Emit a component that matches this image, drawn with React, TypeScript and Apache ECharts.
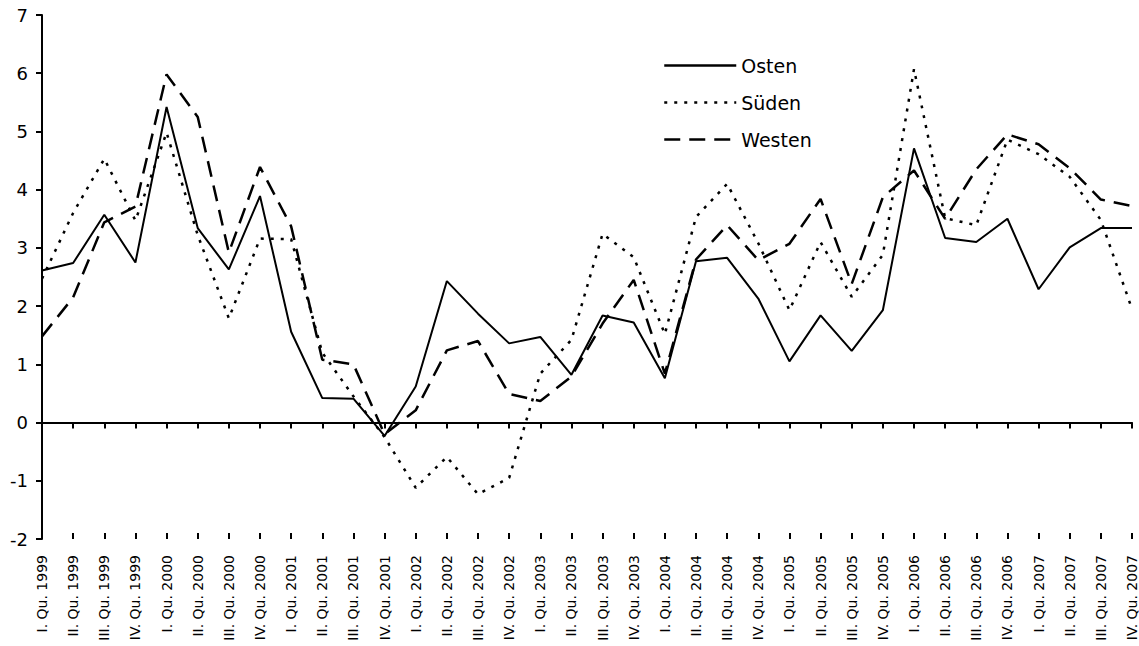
import React, { useEffect, useRef } from "react";
import * as echarts from "echarts";

const categories = [
  "I. Qu. 1999", "II. Qu. 1999", "III. Qu. 1999", "IV. Qu. 1999",
  "I. Qu. 2000", "II. Qu. 2000", "III. Qu. 2000", "IV. Qu. 2000",
  "I. Qu. 2001", "II. Qu. 2001", "III. Qu. 2001", "IV. Qu. 2001",
  "I. Qu. 2002", "II. Qu. 2002", "III. Qu. 2002", "IV. Qu. 2002",
  "I. Qu. 2003", "II. Qu. 2003", "III. Qu. 2003", "IV. Qu. 2003",
  "I. Qu. 2004", "II. Qu. 2004", "III. Qu. 2004", "IV. Qu. 2004",
  "I. Qu. 2005", "II. Qu. 2005", "III. Qu. 2005", "IV. Qu. 2005",
  "I. Qu. 2006", "II. Qu. 2006", "III. Qu. 2006", "IV. Qu. 2006",
  "I. Qu. 2007", "II. Qu. 2007", "III. Qu. 2007", "IV. Qu. 2007",
];

const osten = [
  2.61, 2.74, 3.57, 2.75, 5.42, 3.34, 2.63, 3.89, 1.56, 0.42, 0.41, -0.23,
  0.62, 2.43, 1.87, 1.36, 1.47, 0.82, 1.84, 1.72, 0.76, 2.77, 2.83, 2.13,
  1.05, 1.84, 1.23, 1.93, 4.71, 3.17, 3.1, 3.5, 2.29, 3.01, 3.34, 3.34,
];
const sueden = [
  2.47, 3.6, 4.53, 3.47, 4.98, 3.22, 1.79, 3.16, 3.15, 1.2, 0.45, -0.25,
  -1.12, -0.59, -1.23, -0.95, 0.84, 1.42, 3.24, 2.84, 1.52, 3.53, 4.1, 3.08,
  1.93, 3.1, 2.16, 2.88, 6.07, 3.51, 3.39, 4.86, 4.61, 4.22, 3.48, 1.95,
];
const westen = [
  1.48, 2.15, 3.44, 3.71, 5.98, 5.25, 2.92, 4.39, 3.37, 1.08, 1.0, -0.2,
  0.21, 1.24, 1.4, 0.49, 0.37, 0.79, 1.7, 2.45, 0.84, 2.8, 3.39, 2.79,
  3.07, 3.84, 2.38, 3.87, 4.33, 3.5, 4.35, 4.95, 4.78, 4.37, 3.83, 3.72,
];

const seriesNames = ["Osten", "Süden", "Westen"];
const FONT = "DejaVu Sans";

export default function App() {
  const ref = useRef<HTMLDivElement>(null);
  useEffect(() => {
    if (!ref.current) return;
    const chart = echarts.init(ref.current, null, { renderer: "svg" });
    const baseX = {
      type: "category",
      data: categories,
      boundaryGap: false,
      position: "bottom",
    };
    chart.setOption({
      animation: false,
      backgroundColor: "#fff",
      grid: { left: 42, right: 4, top: 15, bottom: 107, containLabel: false },
      legend: {
        orient: "vertical",
        left: 663,
        top: 56,
        padding: 0,
        itemWidth: 72,
        itemHeight: 18,
        itemGap: 18,
        data: seriesNames,
        itemStyle: { opacity: 0 },
        lineStyle: { width: 2.5 },
        textStyle: { fontFamily: FONT, fontSize: 19, color: "#000", lineHeight: 18 },
      },
      xAxis: [
        {
          ...baseX,
          axisLine: { show: false, onZero: false },
          axisTick: { show: false },
          axisLabel: {
            interval: 0,
            rotate: 90,
            margin: 16,
            fontFamily: FONT,
            fontSize: 14,
            color: "#000",
          },
          splitLine: { show: false },
        },
        {
          ...baseX,
          axisLine: { show: true, onZero: true, lineStyle: { color: "#000", width: 2 } },
          axisTick: { show: true, interval: 0, length: 6, inside: false, lineStyle: { color: "#000", width: 2 } },
          axisLabel: { show: false },
          splitLine: { show: false },
        },
        {
          ...baseX,
          axisLine: { show: false, onZero: true },
          axisTick: { show: true, interval: 0, length: 6, inside: true, lineStyle: { color: "#000", width: 2 } },
          axisLabel: { show: false },
          splitLine: { show: false },
        },
      ],
      yAxis: {
        type: "value",
        min: -2,
        max: 7,
        interval: 1,
        axisLine: { show: true, onZero: false, lineStyle: { color: "#000", width: 2 } },
        axisTick: { show: true, length: 6, lineStyle: { color: "#000", width: 2 } },
        axisLabel: { margin: 14, fontFamily: FONT, fontSize: 18, color: "#000" },
        splitLine: { show: false },
      },
      series: [
        {
          name: "Osten",
          type: "line",
          data: osten,
          symbol: "none",
          xAxisIndex: 0,
          lineStyle: { color: "#000", width: 2, type: "solid" },
          itemStyle: { color: "#000" },
          z: 5,
        },
        {
          name: "Süden",
          type: "line",
          data: sueden,
          symbol: "none",
          xAxisIndex: 0,
          lineStyle: { color: "#000", width: 2.5, type: [3, 7] },
          itemStyle: { color: "#000" },
          z: 5,
        },
        {
          name: "Westen",
          type: "line",
          data: westen,
          symbol: "none",
          xAxisIndex: 0,
          lineStyle: { color: "#000", width: 2.5, type: [16, 9] },
          itemStyle: { color: "#000" },
          z: 5,
        },
      ],
    });
    return () => chart.dispose();
  }, []);
  return (
    <div
      ref={ref}
      style={{ position: "fixed", left: 0, top: 0, width: 1139, height: 646, background: "#fff" }}
    />
  );
}
